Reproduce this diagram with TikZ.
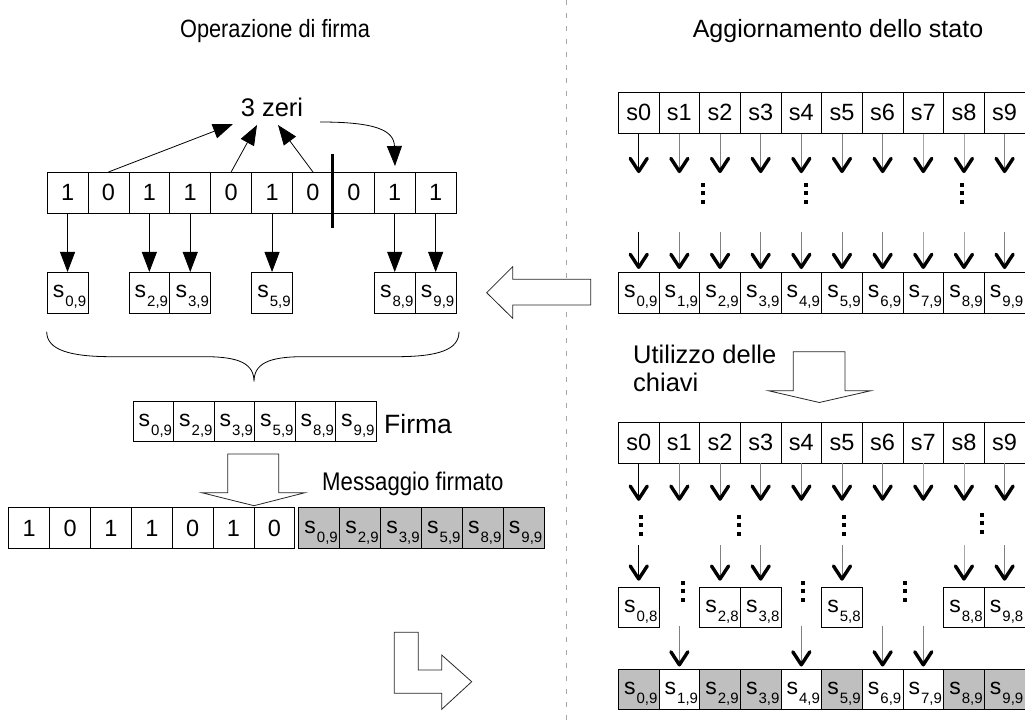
\documentclass[tikz,border=0pt]{standalone}
\usepackage{fontspec}
\setmainfont{Liberation Sans}
\newfontfamily\condfont[FakeStretch=0.87]{Liberation Sans}
\usetikzlibrary{arrows.meta}
\newcommand{\skey}[1]{\hspace*{4pt}{\fontsize{23}{23}\selectfont s}\kern1pt\raisebox{-9pt}{\fontsize{15}{15}\selectfont #1}}
\begin{document}
\begin{tikzpicture}[x=1pt,y=-1pt,
  box/.style={draw, line width=0.8pt, inner sep=0pt, anchor=north west,
    minimum width=40.9pt, minimum height=40.8pt, font=\fontsize{23.5}{23.5}\selectfont},
  rbox/.style={box, minimum width=40.65pt},
  kbox/.style={text height=14pt, text depth=4pt},
  gbox/.style={fill=black!25},
  tri/.style={line width=0.8pt, -{Triangle[length=20pt,width=15pt]}},
  chev/.style={line width=0.8pt, -{Straight Barb[length=13pt,width=17pt,line width=3.4pt 0,color=black,round]}},
  blockarrow/.style={draw=black!85, fill=white, line width=0.8pt, line join=miter},
  lbl/.style={inner sep=0pt, font=\fontsize{25.5}{27.7}\selectfont},
  dts/.pic={\fill (-2,0) rectangle (2,4); \fill (-2,8.3) rectangle (2,12.3); \fill (-2,16.6) rectangle (2,20.6);}
]
\useasboundingbox (0,0) rectangle (1025,727);
% separator
\draw[gray!70, line width=0.8pt, dash pattern=on 5pt off 8pt] (566,0) coordinate (sepA) -- (566,727) coordinate (sepB);
% titles
\node[lbl, anchor=base, font=\condfont\fontsize{25}{30}\selectfont] (title1) at (275,38) {Operazione di firma};
\node[lbl, anchor=base, font=\fontsize{25}{30}\selectfont] (title2) at (838,38) {Aggiornamento dello stato};

% ---------- left: bits ----------
\foreach \i/\t in {0/1,1/0,2/1,3/1,4/0,5/1,6/0,7/0,8/1,9/1}
  \node[box] (b\i) at ({46.7+40.9*\i},172) {\t};
\draw[line width=2.6pt] (332.7,154) coordinate (barA) -- (332.7,228) coordinate (barB);
\node[lbl, anchor=base] (zeri) at (272,116.7) {3 zeri};
\coordinate (z1) at (233,124);
\coordinate (z2) at (257,125);
\coordinate (z3) at (278,125);
\coordinate (zr) at (320,122);
\coordinate (zt) at (395,166);
\draw[tri] (b1.north) -- (z1);
\draw[tri] (b4.north) -- (z2);
\draw[tri] (b6.north) -- (z3);
\draw[tri] (zr) .. controls (375,122) and (394,130) .. (zt);
\foreach \i in {0,2,3,5,8,9}{
  \node[box, kbox] (sb\i) at ({46.7+40.9*\i},272) {\skey{\i,9}};
  \draw[tri] (b\i.south) -- (sb\i.north);
}
% brace
\draw[line width=0.8pt] (46.7,331.7) .. controls (46.7,350) and (70,356.7) .. (112,356.7)
  -- (205,356.7) .. controls (240,356.7) and (254,364) .. (254,381.7)
  .. controls (254,364) and (268,356.7) .. (303,356.7)
  -- (396,356.7) .. controls (438,356.7) and (459,350) .. (459,331.7);
% firma
\foreach \i/\k in {0/0,1/2,2/3,3/5,4/8,5/9}
  \node[box, kbox, minimum width=40.5pt] (f\i) at ({132.7+40.5*\i},400.5) {\skey{\k,9}};
\node[lbl, anchor=base west, font=\fontsize{26.5}{30}\selectfont] (firma) at (384,433.5) {Firma};
% down block arrow
\draw[blockarrow] (227.7,454) -- (278.7,454) -- (278.7,492.7) -- (305,492.7) -- (254,505.7)
  -- (201.7,492.7) -- (227.7,492.7) -- cycle;
% message
\node[lbl, anchor=base west, font=\condfont\fontsize{25.5}{30}\selectfont] (msg) at (322,490) {Messaggio firmato};
\foreach \i/\t in {0/1,1/0,2/1,3/1,4/0,5/1,6/0}
  \node[box] (m\i) at ({8.4+40.85*\i},507.3) {\t};
\foreach \i/\k in {0/0,1/2,2/3,3/5,4/8,5/9}
  \node[box, kbox, gbox] (g\i) at ({298.3+40.9*\i},507.3) {\skey{\k,9}};

% left block arrow
\draw[blockarrow] (590.7,279.3) -- (512.7,279.3) -- (512.7,266.7) -- (486.7,292.7)
  -- (512.7,318.3) -- (512.7,305) -- (590.7,305) -- cycle;
% L arrow
\draw[blockarrow] (394.3,632.3) -- (418.3,632.3) -- (418.3,670) -- (441.7,670) -- (441.7,655)
  -- (471.7,681.7) -- (441.7,709.3) -- (441.7,693.3) -- (394.3,693.3) -- cycle;

% ---------- right top ----------
\foreach \i/\c in {0/black,1/gray,2/gray,3/gray,4/gray,5/gray,6/gray,7/gray!70,8/gray!70,9/gray}{
  \node[rbox] (t\i) at ({618+40.65*\i},92) {s\i};
  \node[rbox, kbox] (u\i) at ({618+40.65*\i},272) {\skey{\i,9}};
  \path (t\i.south) ++(0,39.5) coordinate (ta\i);
  \path (u\i.north) ++(0,-40.3) coordinate (tb\i);
  \draw[chev, draw=\c] (t\i.south) -- (ta\i);
  \draw[chev, draw=\c, shorten >=3pt] (tb\i) -- (u\i.north);
}
\pic at (703,183) {dts};
\pic at (806,183) {dts};
\pic at (962,183) {dts};

% utilizzo
\node[lbl, anchor=north west, align=left] (util) at (633,344.7) {Utilizzo delle\\chiavi};
\draw[blockarrow] (793.3,351.7) -- (845,351.7) -- (845,390.7) -- (871,390.7) -- (819.3,402.5)
  -- (768.3,390.7) -- (793.3,390.7) -- cycle;

% ---------- right bottom ----------
\foreach \i/\c in {0/black,1/gray,2/gray,3/gray,4/gray,5/gray,6/gray,7/gray!70,8/gray!70,9/gray}{
  \node[rbox] (v\i) at ({618+40.65*\i},421.7) {s\i};
  \path (v\i.south) ++(0,37.5) coordinate (va\i);
  \draw[chev, draw=\c] (v\i.south) -- (va\i);
}
\pic at (640.7,515) {dts};
\pic at (739,515) {dts};
\pic at (844,515) {dts};
\pic at (982,513) {dts};
\foreach \i/\c in {0/black,2/gray,3/gray,5/gray,8/gray!70,9/gray}{
  \node[rbox, kbox, minimum height=40pt] (w\i) at ({618+40.65*\i},586.7) {\skey{\i,8}};
  \path (w\i.north) ++(0,-41.7) coordinate (vb\i);
  \draw[chev, draw=\c, shorten >=6pt] (vb\i) -- (w\i.north);
}
\pic at (683,581) {dts};
\pic at (803,581) {dts};
\pic at (905,581) {dts};
\foreach \i in {0,2,3,5,8,9}
  \node[rbox, kbox, gbox] (r\i) at ({618+40.65*\i},668.5) {\skey{\i,9}};
\foreach \i in {1,4,6,7}{
  \node[rbox, kbox] (r\i) at ({618+40.65*\i},668.5) {\skey{\i,9}};
  \path (r\i.north) ++(0,-42.5) coordinate (xb\i);
  \draw[chev, draw=gray, shorten >=2pt] (xb\i) -- (r\i.north);
}
\end{tikzpicture}
\end{document}
